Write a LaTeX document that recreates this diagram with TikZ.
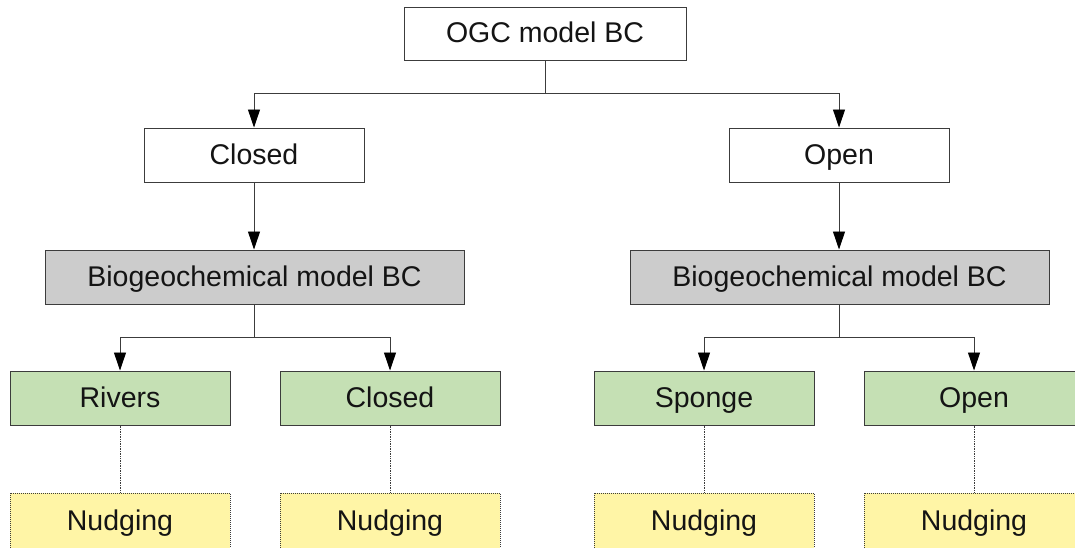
\documentclass[tikz,border=0pt]{standalone}
\usepackage{fontspec}
\setmainfont{Liberation Sans}
\usetikzlibrary{arrows.meta}
\definecolor{boxgray}{RGB}{204,204,204}
\definecolor{boxgreen}{RGB}{197,224,180}
\definecolor{boxyellow}{RGB}{255,245,166}
\definecolor{linegray}{RGB}{60,60,60}
\definecolor{txt}{RGB}{20,20,20}
\tikzset{
  box/.style={draw=linegray, line width=1pt, minimum width=220pt, minimum height=54pt,
    inner sep=0pt, font=\fontsize{28.5}{32}\selectfont, text=txt,
    text height=21pt, text depth=3pt},
  whitebox/.style={box, fill=white},
  graybox/.style={box, fill=boxgray, minimum width=419pt},
  greenbox/.style={box, fill=boxgreen},
  nudgebox/.style={box, fill=boxyellow, densely dotted, minimum height=56pt},
  conn/.style={draw=linegray, line width=0.9pt},
  arr/.style={conn, -{Triangle[length=18pt,width=12pt,fill=black,color=black]}},
  dots/.style={draw=linegray, line width=0.7pt, densely dotted}
}
\begin{document}
\begin{tikzpicture}[x=1pt,y=-1pt]
\useasboundingbox (0,0) rectangle (1075,547);
\clip (0,0) rectangle (1075,547);
\fill[white] (0,0) rectangle (1075,547);

\node[whitebox, minimum width=282pt, minimum height=53pt] (ogc) at (545,33.5) {OGC model BC};
\node[whitebox] (closed) at (254,155) {Closed};
\node[whitebox] (open) at (839,155) {Open};
\node[graybox] (bioL) at (254.5,277) {Biogeochemical model BC};
\node[graybox] (bioR) at (839.5,277) {Biogeochemical model BC};
\node[greenbox] (rivers) at (120,398) {Rivers};
\node[greenbox] (closedG) at (390,398) {Closed};
\node[greenbox] (sponge) at (704,398) {Sponge};
\node[greenbox] (openG) at (974,398) {Open};
\node[nudgebox] (n1) at (120,521) {Nudging};
\node[nudgebox] (n2) at (390,521) {Nudging};
\node[nudgebox] (n3) at (704,521) {Nudging};
\node[nudgebox] (n4) at (974,521) {Nudging};

\coordinate (j0) at (545,93);
\coordinate (jL) at (254.5,337);
\coordinate (jR) at (839.5,337);

\draw[conn] (ogc.south) -- (j0);
\draw[arr] (j0) -| (closed.north);
\draw[arr] (j0) -| (open.north);
\draw[arr] (closed.south) -- (bioL.north -| closed.south);
\draw[arr] (open.south) -- (bioR.north -| open.south);
\draw[conn] (bioL.south) -- (jL);
\draw[conn] (bioR.south) -- (jR);
\draw[arr] (jL) -| (rivers.north);
\draw[arr] (jL) -| (closedG.north);
\draw[arr] (jR) -| (sponge.north);
\draw[arr] (jR) -| (openG.north);
\draw[dots] (rivers.south) -- (n1.north);
\draw[dots] (closedG.south) -- (n2.north);
\draw[dots] (sponge.south) -- (n3.north);
\draw[dots] (openG.south) -- (n4.north);
\end{tikzpicture}
\end{document}
